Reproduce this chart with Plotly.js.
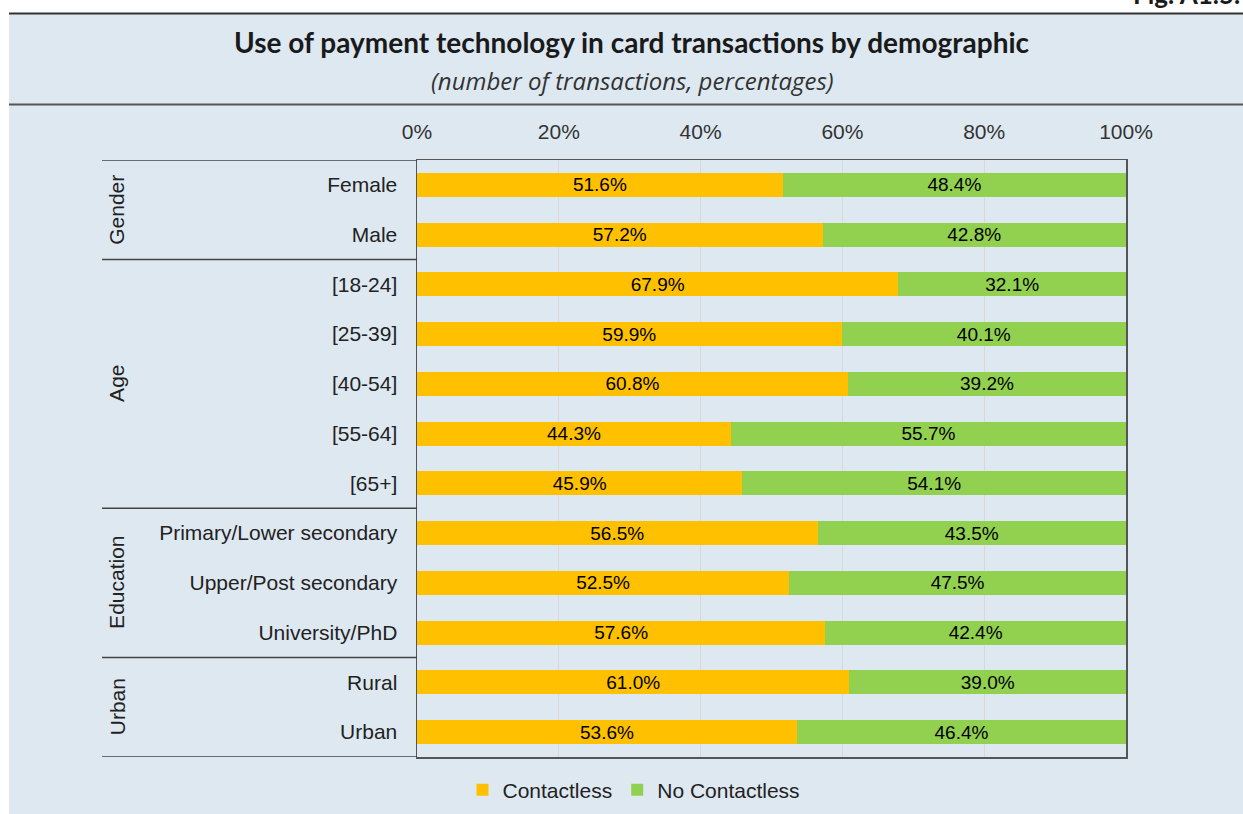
<!DOCTYPE html>
<html>
<head>
<meta charset="utf-8">
<script src="https://cdn.plot.ly/plotly-3.0.1.min.js"></script>
<style>html,body{margin:0;padding:0;background:#fff;}#chart{width:1243px;height:814px;}</style>
</head>
<body>
<div id="chart"></div>
<script>
// ---- data ----
const categories = ["Female","Male","[18-24]","[25-39]","[40-54]","[55-64]","[65+]",
  "Primary/Lower secondary","Upper/Post secondary","University/PhD","Rural","Urban"];
const contactless = [51.6,57.2,67.9,59.9,60.8,44.3,45.9,56.5,52.5,57.6,61.0,53.6];
const noContactless = [48.4,42.8,32.1,40.1,39.2,55.7,54.1,43.5,47.5,42.4,39.0,46.4];
const groupNames = ["Gender","Age","Education","Urban"];
const groupSizes = [2,5,3,2];
const xTickVals = [0,20,40,60,80,100];
const xTickText = ["0%","20%","40%","60%","80%","100%"];
const seriesNames = ["Contactless","No Contactless"];

// ---- geometry helpers (pixel -> paper) ----
const W=1243,H=814, L=417, R=117, T=160, B=57;
const pw=W-L-R, ph=H-T-B;
const px=(x)=>(x-L)/pw;
const py=(y)=>(H-B-y)/ph;

const font="Liberation Sans, Arial, sans-serif";
const orange="#FFC000", green="#92D050", panel="#DEE8F1";

const traces=[
 {type:"bar",orientation:"h",name:seriesNames[0],y:categories,x:contactless,
  marker:{color:orange},width:0.48,texttemplate:"%{x:.1f}%",textposition:"inside",
  insidetextanchor:"middle",textfont:{family:font,size:19,color:"#000"},hoverinfo:"skip"},
 {type:"bar",orientation:"h",name:seriesNames[1],y:categories,x:noContactless,
  marker:{color:green},width:0.48,texttemplate:"%{x:.1f}%",textposition:"inside",
  insidetextanchor:"middle",textfont:{family:font,size:19,color:"#000"},hoverinfo:"skip"}
];

const shapes=[
 {type:"rect",xref:"paper",yref:"paper",x0:px(9),x1:px(1260),y0:py(840),y1:py(14),
  fillcolor:panel,line:{width:0},layer:"below"},
 {type:"line",xref:"paper",yref:"paper",x0:px(9),x1:px(1260),y0:py(13.5),y1:py(13.5),
  line:{color:"#333",width:2}},
 {type:"line",xref:"paper",yref:"paper",x0:px(9),x1:px(1260),y0:py(104.5),y1:py(104.5),
  line:{color:"#555",width:2}}
];
const annotations=[
 {xref:"paper",yref:"paper",x:px(632),y:py(42),text:"<b>Use of payment technology in card transactions by demographic</b>",
  showarrow:false,font:{family:"Lato, sans-serif",size:28,color:"#1a1a1a"},xanchor:"center",yanchor:"middle"},
 {xref:"paper",yref:"paper",x:px(632),y:py(80),text:"<i>(number of transactions, percentages)</i>",
  showarrow:false,font:{family:"Open Sans, sans-serif",size:24,color:"#333"},xanchor:"center",yanchor:"middle"},
 {xref:"paper",yref:"paper",x:px(1242),y:py(12),text:"<b>Fig. A1.5.</b>",
  showarrow:false,font:{family:"Lato, sans-serif",size:26,color:"#1a1a1a"},xanchor:"right",yanchor:"bottom"}
];
// group separators and labels
let start=0;
const bounds=[-0.5];
groupNames.forEach((g,i)=>{
  const end=start+groupSizes[i];
  bounds.push(end-0.5);
  annotations.push({xref:"paper",yref:"y",x:px(117),y:(start+end-1)/2,text:g,textangle:-90,
    showarrow:false,font:{family:font,size:21,color:"#222"},xanchor:"center",yanchor:"middle"});
  start=end;
});
bounds.forEach(b=>{
  shapes.push({type:"line",xref:"paper",yref:"y",x0:px(102),x1:0,y0:b,y1:b,line:{color:"#444",width:1.5}});
});

const layout={
 width:W,height:H,margin:{l:L,r:R,t:T,b:B,autoexpand:false},
 paper_bgcolor:"#fff",plot_bgcolor:"#fff",
 barmode:"stack",showlegend:true,
 uniformtext:{mode:"show",minsize:19},
 legend:{orientation:"h",traceorder:"normal",x:px(634),xanchor:"center",y:py(790),yanchor:"middle",
  font:{family:font,size:21,color:"#222"},bgcolor:"rgba(0,0,0,0)"},
 xaxis:{range:[0,100],side:"top",tickvals:xTickVals,ticktext:xTickText,ticks:"",
  tickfont:{family:font,size:21,color:"#333"},ticklabelstandoff:11,automargin:false,
  showgrid:true,gridcolor:"#D9D9D9",gridwidth:1,zeroline:false,
  showline:true,linecolor:"#555",linewidth:1.5,mirror:true,fixedrange:true},
 yaxis:{type:"category",categoryorder:"array",categoryarray:categories,range:[11.5,-0.5],
  ticks:"",tickfont:{family:font,size:21,color:"#222"},ticklabelstandoff:14,automargin:false,
  showgrid:false,zeroline:false,showline:true,linecolor:"#555",linewidth:1.5,mirror:true,fixedrange:true},
 shapes:shapes,annotations:annotations,hovermode:false
};
Plotly.newPlot("chart",traces,layout,{displayModeBar:false,staticPlot:true});
</script>
</body>
</html>
